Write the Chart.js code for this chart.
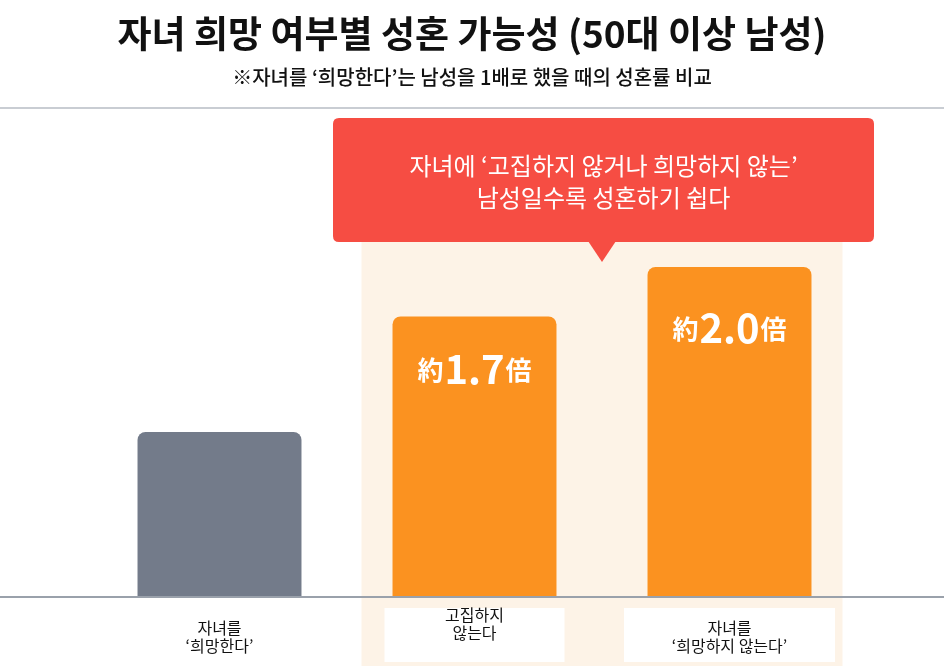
<!DOCTYPE html>
<html>
<head>
<meta charset="utf-8">
<script src="https://cdn.jsdelivr.net/npm/chart.js@4/dist/chart.umd.min.js"></script>
<style>
  html, body { margin: 0; padding: 0; background: #fff; }
  #mycanvas { display: block; }
</style>
</head>
<body>
<canvas id="mycanvas" width="944" height="666"></canvas>
<script>
// data
var categories = [["자녀를", "‘희망한다’"], ["고집하지", "않는다"], ["자녀를", "‘희망하지 않는다’"]];
var ratios = [1.0, 1.7, 2.0];
var ratioLabels = [null, "1.7", "2.0"];
var barColors = ['#737b8a', '#fb9220', '#fb9220'];

var titleText = "자녀 희망 여부별 성혼 가능성 (50대 이상 남성)";
var subtitleText = "※자녀를 ‘희망한다’는 남성을 1배로 했을 때의 성혼률 비교";
var calloutLines = ["자녀에 ‘고집하지 않거나 희망하지 않는’", "남성일수록 성혼하기 쉽다"];

var FONT = '"Noto Sans CJK KR", "Noto Sans", sans-serif';

function roundRect(ctx, x, y, w, h, r) {
    ctx.beginPath();
    ctx.moveTo(x + r, y);
    ctx.lineTo(x + w - r, y);
    ctx.quadraticCurveTo(x + w, y, x + w, y + r);
    ctx.lineTo(x + w, y + h - r);
    ctx.quadraticCurveTo(x + w, y + h, x + w - r, y + h);
    ctx.lineTo(x + r, y + h);
    ctx.quadraticCurveTo(x, y + h, x, y + h - r);
    ctx.lineTo(x, y + r);
    ctx.quadraticCurveTo(x, y, x + r, y);
    ctx.closePath();
}

var decorPlugin = {
    id: 'decor',
    beforeDatasetsDraw: function (chart) {
        var ctx = chart.ctx;
        var xs = chart.scales.x;
        var W = chart.width;
        ctx.save();
        // title
        ctx.fillStyle = '#111';
        ctx.textAlign = 'center';
        ctx.textBaseline = 'middle';
        ctx.font = 'bold 37px ' + FONT;
        ctx.fillText(titleText, W / 2, 34);
        ctx.font = '500 20px ' + FONT;
        ctx.fillText(subtitleText, W / 2, 77);
        // top rule
        ctx.fillStyle = '#c9cdd3';
        ctx.fillRect(0, 107, W, 2);
        // highlight band behind categories 2 and 3
        var x1 = xs.getPixelForValue(1) - 113;
        var x2 = xs.getPixelForValue(2) + 113;
        ctx.fillStyle = '#fdf3e7';
        ctx.fillRect(x1, 236, x2 - x1, chart.height - 236);
        ctx.restore();
    },
    afterDatasetsDraw: function (chart) {
        var ctx = chart.ctx;
        var xs = chart.scales.x;
        var ys = chart.scales.y;
        var W = chart.width;
        var base = ys.getPixelForValue(0);
        var meta = chart.getDatasetMeta(0);
        ctx.save();
        // baseline
        ctx.fillStyle = '#9aa1ab';
        ctx.fillRect(0, base - 1, W, 2);

        // category labels
        var labelTop = [628, 615, 628];
        for (var i = 0; i < categories.length; i++) {
            var cx = xs.getPixelForValue(i);
            if (i > 0) {
                var bw = i === 1 ? 180 : 211;
                ctx.fillStyle = '#ffffff';
                ctx.fillRect(cx - bw / 2, 608, bw, 54);
            }
            ctx.fillStyle = '#111';
            ctx.font = '16px ' + FONT;
            ctx.textAlign = 'center';
            ctx.textBaseline = 'middle';
            for (var j = 0; j < categories[i].length; j++) {
                ctx.fillText(categories[i][j], cx, labelTop[i] + j * 18);
            }
        }

        // value labels inside bars
        var offsets = [0, 53, 62];
        for (var k = 0; k < ratioLabels.length; k++) {
            if (!ratioLabels[k]) continue;
            var bar = meta.data[k];
            var y = bar.y + offsets[k];
            var smallF = 'bold 26px ' + FONT;
            var bigF = 'bold 40px ' + FONT;
            ctx.font = smallF;
            var wa = ctx.measureText('約').width;
            var wc = ctx.measureText('倍').width;
            ctx.font = bigF;
            var wb = ctx.measureText(ratioLabels[k]).width;
            var total = wa + wb + wc + 2;
            var sx = bar.x - total / 2;
            ctx.fillStyle = '#ffffff';
            ctx.textAlign = 'left';
            ctx.textBaseline = 'alphabetic';
            ctx.font = smallF;
            ctx.fillText('約', sx, y + 10);
            ctx.font = bigF;
            ctx.fillText(ratioLabels[k], sx + wa + 1, y + 14);
            ctx.font = smallF;
            ctx.fillText('倍', sx + wa + wb + 2, y + 10);
        }

        // callout
        var bx = 333, by = 118, bwid = 541, bh = 124;
        ctx.fillStyle = '#f64d43';
        roundRect(ctx, bx, by, bwid, bh, 6);
        ctx.fill();
        ctx.beginPath();
        ctx.moveTo(588, by + bh - 1);
        ctx.lineTo(602, 262);
        ctx.lineTo(616, by + bh - 1);
        ctx.closePath();
        ctx.fill();
        ctx.fillStyle = '#ffffff';
        ctx.font = '24px ' + FONT;
        ctx.textAlign = 'center';
        ctx.textBaseline = 'middle';
        ctx.fillText(calloutLines[0], bx + bwid / 2, 166);
        ctx.fillText(calloutLines[1], bx + bwid / 2, 198);
        ctx.restore();
    }
};

var ctx = document.getElementById('mycanvas');
var barGraph = new Chart(ctx, {
    type: 'bar',
    data: {
        labels: categories,
        datasets: [{
            data: ratios,
            backgroundColor: barColors,
            borderRadius: { topLeft: 8, topRight: 8, bottomLeft: 0, bottomRight: 0 },
            borderSkipped: 'bottom',
            barPercentage: 0.643,
            categoryPercentage: 1
        }]
    },
    options: {
        responsive: false,
        animation: false,
        layout: { padding: { left: 92, right: 87, top: 201, bottom: 69 } },
        plugins: {
            legend: { display: false },
            tooltip: { enabled: false }
        },
        scales: {
            x: { display: false },
            y: { display: false, min: 0, max: 2.4 }
        }
    },
    plugins: [decorPlugin]
});
</script>
</body>
</html>
